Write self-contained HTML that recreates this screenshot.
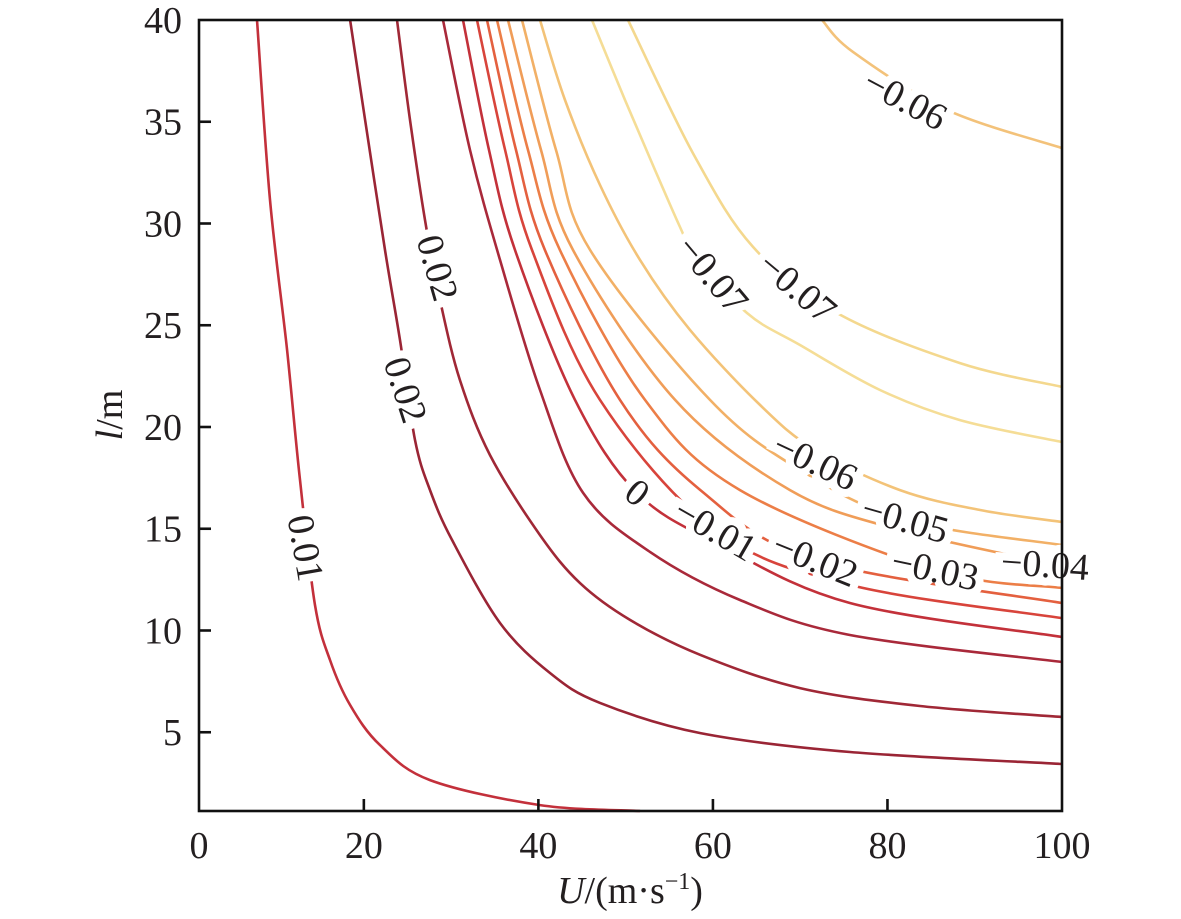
<!DOCTYPE html>
<html>
<head>
<meta charset="utf-8">
<style>
  html, body { margin: 0; padding: 0; background: #fff; }
  svg { display: block; }
  text { font-family: "Liberation Serif", "DejaVu Serif", serif; fill: #231f20; }
</style>
</head>
<body>
<svg id="chart" width="1181" height="919" viewBox="0 0 1181 919" xmlns="http://www.w3.org/2000/svg" style="position:absolute;left:0;top:0">
  <g id="lines"></g>
  <g id="labels"></g>
  <g id="axes"></g>
  <text x="630" y="903" text-anchor="middle" font-size="38"><tspan font-style="italic">U</tspan>/(m·s<tspan font-size="24" dy="-14">−1</tspan><tspan dy="14">)</tspan></text>
  <text x="0" y="0" transform="translate(122,415) rotate(-90)" text-anchor="middle" font-size="38"><tspan font-style="italic">l</tspan>/m</text>
</svg>
<script>
// ---- data (U in m/s, l in m) ----
const xTicks = [0, 20, 40, 60, 80, 100];
const yTicks = [5, 10, 15, 20, 25, 30, 35, 40];

const c1U = [7.76, 9.25, 11.20, 12.68, 14.40, 16.12, 18.42, 21.85, 27.58, 40.18, 51.65];
const c1L = [40, 31.16, 23.78, 17.40, 11.25, 8.55, 6.34, 4.37, 2.65, 1.42, 1.13];
const c2U = [18.42, 20.14, 22.42, 24.14, 25.86, 27.58, 30.10, 35.60, 41.33, 47.06, 58.57, 75.70, 100];
const c2L = [40, 35.09, 28.70, 24.27, 19.36, 16.90, 14.45, 10.37, 7.91, 6.44, 4.96, 4.03, 3.44];
const c3U = [23.80, 25.29, 27.01, 28.73, 31.01, 34.46, 40.18, 44.77, 50.50, 58.57, 69.98, 83.73, 100];
const c3L = [40, 35.09, 30.17, 26.24, 22.31, 18.62, 14.69, 12.33, 10.52, 8.80, 7.17, 6.29, 5.75];
const c4U = [29.07, 32.16, 35.60, 40.18, 45.12, 52.79, 63.10, 75.70, 100];
const c4L = [40, 33.61, 28.21, 21.82, 16.76, 13.86, 11.50, 9.78, 8.45];
const c5U = [31.36, 34.34, 37.32, 44.20, 51.30, 60.81, 75.70, 100];
const c5L = [40, 33.61, 28.70, 21.33, 16.76, 14.20, 11.35, 9.68];
const c6U = [32.96, 36.18, 39.27, 47.06, 60.24, 75.70, 100];
const c6L = [40, 33.61, 28.70, 21.33, 14.94, 12.24, 10.61];
const c7U = [34.11, 37.43, 40.75, 49.35, 58.57, 71.70, 100];
const c7L = [40, 33.61, 28.70, 21.33, 16.90, 13.46, 11.35];
const c8U = [35.26, 38.81, 42.47, 52.22, 63.10, 85.44, 100];
const c8L = [40, 33.61, 28.70, 21.33, 16.90, 12.97, 12.09];
const c9U = [36.52, 40.30, 43.97, 55.66, 68.83, 81.44, 100];
const c9L = [40, 33.61, 28.70, 21.33, 16.90, 14.94, 13.17];
const c10U = [38.12, 42.02, 45.92, 59.66, 69.98, 82.01, 100];
const c10L = [40, 33.61, 28.70, 21.33, 17.89, 15.43, 14.20];
const c11U = [40.18, 43.05, 47.06, 51.64, 57.37, 65.40, 71.70, 81.44, 90.61, 100];
const c11L = [40, 36.07, 31.89, 28.21, 24.77, 21.08, 18.87, 16.90, 15.92, 15.33];
const c12U = [46.14, 49.92, 53.36, 56.23, 57.94, 63.90, 69.98, 79.14, 88.31, 100];
const c12L = [40, 36.07, 32.63, 29.83, 28.45, 25.60, 24.03, 21.82, 20.34, 19.26];
const c13U = [50.27, 57.71, 64.59, 74.22, 88.31, 100];
const c13L = [40, 33.46, 28.85, 25.60, 23.14, 21.97];
const c14U = [72.50, 76.05, 86.82, 100];
const c14L = [40, 38.43, 35.58, 33.71];

const levelText = ["0.01","0.02","0.02","","0","\u22120.01","\u22120.02","\u22120.03","\u22120.04","\u22120.05","\u22120.06","\u22120.07","\u22120.07","\u22120.06"];

// ---- styling / layout ----
const contours = [[c1U,c1L],[c2U,c2L],[c3U,c3L],[c4U,c4L],[c5U,c5L],[c6U,c6L],[c7U,c7L],[c8U,c8L],[c9U,c9L],[c10U,c10L],[c11U,c11L],[c12U,c12L],[c13U,c13L],[c14U,c14L]];
const colors = ["#c3303b","#9a2535","#a02836","#a9293a","#c3313a","#d8443b","#e4603f","#ec7e47","#f09d58","#f2b066","#f3c378","#f5dd96","#f4d88e","#f3c27a"];
// label placement: [contour index, pixel x, pixel y, rotation]
const labelPos = [[0,305,548,80],[1,405,390,72],[2,437,268,74],[4,637,493,38],[5,715,530,30],[6,815,560,22],[7,935,570,12],[8,1045,565,4],[9,905,520,16],[10,815,462,25],[11,712,275,50],[12,797,288,40],[13,905,100,28]];

const X0 = 199, X1 = 1062, Y0 = 811, Y1 = 20;
const xMin = 1.11, xMax = 100, yMin = 1.13, yMax = 40;
const sx = u => X0 + (u - xMin) / (xMax - xMin) * (X1 - X0);
const sy = l => Y0 - (l - yMin) / (yMax - yMin) * (Y0 - Y1);
const NS = "http://www.w3.org/2000/svg";

function smoothPath(pts) {
  let d = "M" + pts[0][0].toFixed(1) + "," + pts[0][1].toFixed(1);
  for (let i = 0; i < pts.length - 1; i++) {
    const p0 = pts[i - 1] || pts[i], p1 = pts[i], p2 = pts[i + 1], p3 = pts[i + 2] || p2;
    const c1x = p1[0] + (p2[0] - p0[0]) / 6, c1y = p1[1] + (p2[1] - p0[1]) / 6;
    const c2x = p2[0] - (p3[0] - p1[0]) / 6, c2y = p2[1] - (p3[1] - p1[1]) / 6;
    d += " C" + c1x.toFixed(1) + "," + c1y.toFixed(1) + " " + c2x.toFixed(1) + "," + c2y.toFixed(1) + " " + p2[0].toFixed(1) + "," + p2[1].toFixed(1);
  }
  return d;
}

const gLines = document.getElementById("lines");
contours.forEach((c, i) => {
  const pts = c[0].map((u, k) => [sx(u), sy(c[1][k])]);
  const p = document.createElementNS(NS, "path");
  p.setAttribute("d", smoothPath(pts));
  p.setAttribute("fill", "none");
  p.setAttribute("stroke", colors[i]);
  p.setAttribute("stroke-width", "2.6");
  
  
  gLines.appendChild(p);
});

const gLab = document.getElementById("labels");
labelPos.forEach(lp => {
  const t = document.createElementNS(NS, "text");
  t.setAttribute("x", lp[1]);
  t.setAttribute("y", lp[2]);
  t.setAttribute("text-anchor", "middle");
  t.setAttribute("dominant-baseline", "central");
  t.setAttribute("font-size", "38");
  t.setAttribute("stroke", "#fff");
  t.setAttribute("stroke-width", "16");
  t.setAttribute("paint-order", "stroke");
  t.setAttribute("transform", "rotate(" + lp[3] + " " + lp[1] + " " + lp[2] + ")");
  t.textContent = levelText[lp[0]];
  
  
  gLab.appendChild(t);
});

const gAx = document.getElementById("axes");
const frame = document.createElementNS(NS, "rect");
frame.setAttribute("x", X0); frame.setAttribute("y", Y1);
frame.setAttribute("width", X1 - X0); frame.setAttribute("height", Y0 - Y1);
frame.setAttribute("fill", "none"); frame.setAttribute("stroke", "#111"); frame.setAttribute("stroke-width", "2.6");


gAx.appendChild(frame);

xTicks.forEach(v => {
  const x = Math.max(X0, sx(v));
  if (v > xMin && v < xMax) {
    const tk = document.createElementNS(NS, "line");
    tk.setAttribute("x1", x); tk.setAttribute("x2", x);
    tk.setAttribute("y1", Y0); tk.setAttribute("y2", Y0 - 12);
    tk.setAttribute("stroke", "#111"); tk.setAttribute("stroke-width", "2.6");
    
    
    gAx.appendChild(tk);
  }
  const t = document.createElementNS(NS, "text");
  t.setAttribute("x", x); t.setAttribute("y", 858);
  t.setAttribute("text-anchor", "middle"); t.setAttribute("font-size", "38");
  t.textContent = v;
  
  
  gAx.appendChild(t);
});

yTicks.forEach(v => {
  const y = sy(v);
  if (v < yMax) {
    const tk = document.createElementNS(NS, "line");
    tk.setAttribute("x1", X0); tk.setAttribute("x2", X0 + 12);
    tk.setAttribute("y1", y); tk.setAttribute("y2", y);
    tk.setAttribute("stroke", "#111"); tk.setAttribute("stroke-width", "2.6");
    
    
    gAx.appendChild(tk);
  }
  const t = document.createElementNS(NS, "text");
  t.setAttribute("x", 182); t.setAttribute("y", y + 13);
  t.setAttribute("text-anchor", "end"); t.setAttribute("font-size", "38");
  t.textContent = v;
  
  
  gAx.appendChild(t);
});
</script>
</body>
</html>
